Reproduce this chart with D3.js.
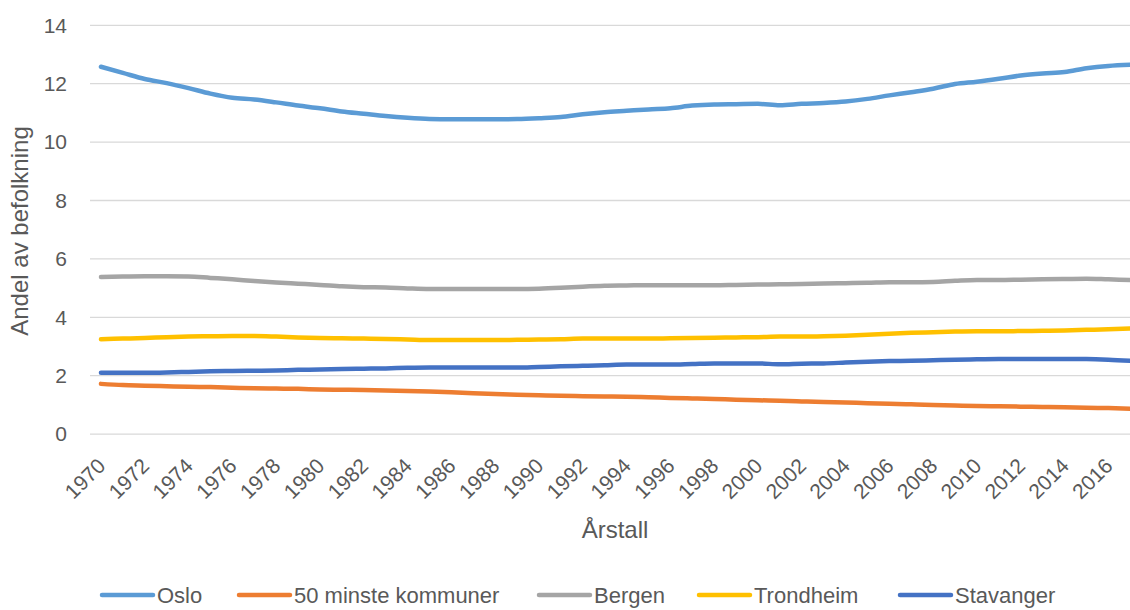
<!DOCTYPE html>
<html>
<head>
<meta charset="utf-8">
<script src="https://cdn.jsdelivr.net/npm/d3@7"></script>
<style>
  html, body { margin: 0; padding: 0; background: #fff; }
  svg { display: block; }
  text { font-family: "Liberation Sans", Arial, sans-serif; fill: #595959; }
</style>
</head>
<body>
<svg id="chart" width="1130" height="610"></svg>
<script>
const years = d3.range(1970, 2018);
const yTicks = [0, 2, 4, 6, 8, 10, 12, 14];
const xTickLabels = d3.range(1970, 2017, 2);
const seriesNames = ["Oslo", "50 minste kommuner", "Bergen", "Trondheim", "Stavanger"];
const seriesColors = ["#5B9BD5", "#ED7D31", "#A5A5A5", "#FFC000", "#4472C4"];

const oslo = [12.58, 12.37, 12.16, 12.02, 11.85, 11.66, 11.52, 11.46, 11.36, 11.25,
  11.16, 11.05, 10.97, 10.89, 10.83, 10.79, 10.78, 10.78, 10.78, 10.79,
  10.82, 10.86, 10.95, 11.02, 11.07, 11.12, 11.16, 11.25, 11.29, 11.30,
  11.31, 11.26, 11.31, 11.34, 11.39, 11.48, 11.60, 11.71, 11.83, 11.99,
  12.07, 12.17, 12.28, 12.35, 12.40, 12.53, 12.61, 12.65];
const minste = [1.72, 1.68, 1.66, 1.64, 1.62, 1.61, 1.59, 1.57, 1.56, 1.55,
  1.53, 1.52, 1.51, 1.49, 1.48, 1.46, 1.43, 1.40, 1.37, 1.35,
  1.33, 1.31, 1.30, 1.29, 1.28, 1.26, 1.24, 1.22, 1.20, 1.18,
  1.16, 1.14, 1.12, 1.10, 1.08, 1.06, 1.04, 1.02, 1.00, 0.98,
  0.96, 0.95, 0.94, 0.93, 0.92, 0.90, 0.89, 0.87];
const bergen = [5.38, 5.40, 5.41, 5.41, 5.40, 5.35, 5.30, 5.24, 5.19, 5.15,
  5.11, 5.06, 5.03, 5.02, 4.99, 4.97, 4.97, 4.97, 4.97, 4.97,
  4.98, 5.01, 5.05, 5.08, 5.09, 5.10, 5.10, 5.10, 5.10, 5.11,
  5.12, 5.13, 5.14, 5.16, 5.17, 5.18, 5.20, 5.20, 5.21, 5.25,
  5.28, 5.28, 5.29, 5.30, 5.31, 5.32, 5.30, 5.28];
const trondheim = [3.25, 3.27, 3.29, 3.32, 3.34, 3.35, 3.36, 3.36, 3.34, 3.31,
  3.29, 3.28, 3.27, 3.26, 3.24, 3.22, 3.22, 3.22, 3.22, 3.23,
  3.24, 3.25, 3.27, 3.27, 3.27, 3.27, 3.28, 3.29, 3.30, 3.31,
  3.32, 3.34, 3.34, 3.35, 3.37, 3.40, 3.44, 3.47, 3.49, 3.51,
  3.52, 3.52, 3.53, 3.54, 3.55, 3.57, 3.59, 3.62];
const stavanger = [2.10, 2.10, 2.10, 2.11, 2.13, 2.15, 2.16, 2.17, 2.18, 2.20,
  2.21, 2.23, 2.24, 2.25, 2.27, 2.28, 2.28, 2.28, 2.28, 2.28,
  2.30, 2.32, 2.34, 2.36, 2.38, 2.38, 2.38, 2.40, 2.42, 2.42,
  2.42, 2.39, 2.41, 2.42, 2.45, 2.48, 2.50, 2.51, 2.53, 2.55,
  2.56, 2.57, 2.57, 2.57, 2.57, 2.57, 2.55, 2.51];

const seriesValues = [oslo, minste, bergen, trondheim, stavanger];
const series = seriesNames.map((name, i) => ({
  name, color: seriesColors[i],
  values: years.map((yr, j) => ({ year: yr, value: seriesValues[i][j] }))
}));

const svg = d3.select("#chart");
const plotLeft = 90, plotRight = 1141.2;
const x = d3.scaleLinear().domain([1969.5, 2017.5]).range([plotLeft, plotRight]);
const y = d3.scaleLinear().domain([0, 14]).range([434.1, 25.3]);

// gridlines
svg.append("g").selectAll("line").data(yTicks).join("line")
  .attr("x1", plotLeft).attr("x2", 1130)
  .attr("y1", d => y(d)).attr("y2", d => y(d))
  .attr("stroke", "#d9d9d9").attr("stroke-width", 1.3);

// y axis labels
const yAxis = d3.axisLeft(y).tickValues(yTicks).tickSize(0).tickPadding(0);
const gy = svg.append("g").attr("transform", "translate(67,0)").call(yAxis);
gy.select(".domain").remove();
gy.selectAll("text").attr("font-size", 21).attr("fill", "#595959")
  .style("font-family", "'Liberation Sans', Arial, sans-serif");

// x axis labels (rotated)
const xAxis = d3.axisBottom(x).tickValues(xTickLabels).tickFormat(d3.format("d")).tickSize(0).tickPadding(0);
const gx = svg.append("g").attr("transform", "translate(0,462)").call(xAxis);
gx.select(".domain").remove();
gx.selectAll("text")
  .attr("font-size", 21).attr("fill", "#595959")
  .style("font-family", "'Liberation Sans', Arial, sans-serif")
  .attr("text-anchor", "end")
  .attr("y", 0).attr("dy", "0.35em")
  .attr("transform", "rotate(-45)");

// lines
const line = d3.line().x(d => x(d.year)).y(d => y(d.value)).curve(d3.curveMonotoneX);
svg.append("g").selectAll("path").data(series).join("path")
  .attr("d", d => line(d.values))
  .attr("fill", "none")
  .attr("stroke", d => d.color)
  .attr("stroke-width", 4.5)
  .attr("stroke-linecap", "round")
  .attr("stroke-linejoin", "round");

// axis titles
svg.append("text").attr("x", 615).attr("y", 538)
  .attr("text-anchor", "middle").attr("font-size", 24).text("Årstall");
svg.append("text").attr("transform", "translate(28,231) rotate(-90)")
  .attr("text-anchor", "middle").attr("font-size", 24).text("Andel av befolkning");

// legend
const legendX = [100, 237, 537, 697, 898];
const lg = svg.append("g").selectAll("g").data(series).join("g")
  .attr("transform", (d, i) => `translate(${legendX[i]},595)`);
lg.append("line").attr("x1", 2).attr("x2", 53).attr("y1", 0).attr("y2", 0)
  .attr("stroke", d => d.color).attr("stroke-width", 4.5).attr("stroke-linecap", "round");
lg.append("text").attr("x", 57).attr("y", 0).attr("dy", "0.36em")
  .attr("font-size", 22).text(d => d.name);
</script>
</body>
</html>
